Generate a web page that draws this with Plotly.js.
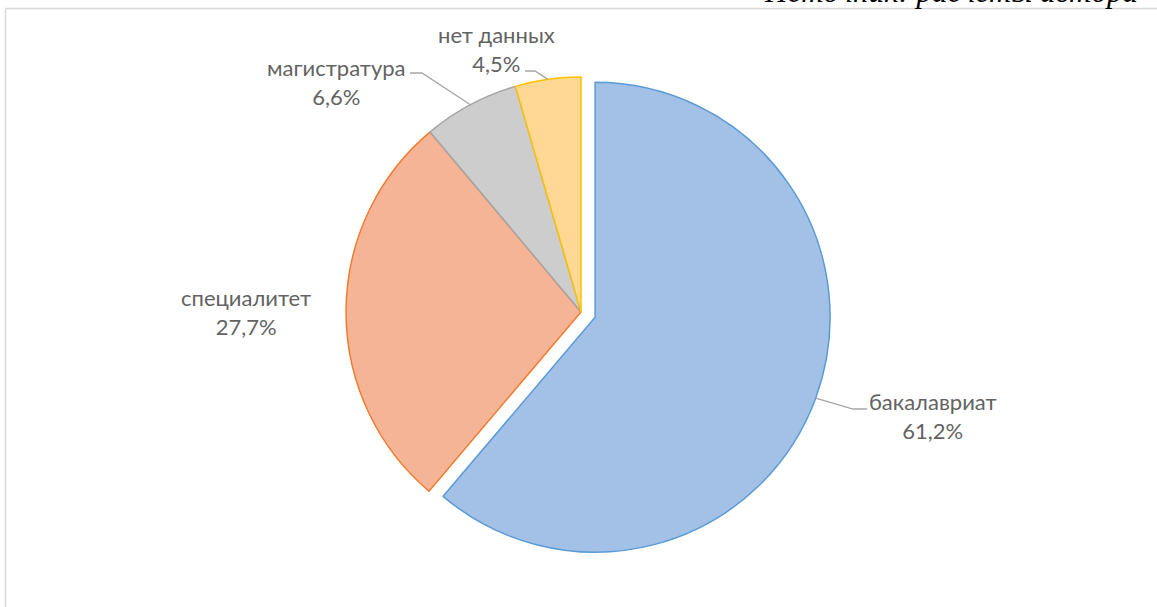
<!DOCTYPE html>
<html>
<head>
<meta charset="utf-8">
<script src="https://cdn.plot.ly/plotly-3.0.1.min.js"></script>
<style>
  html, body { margin: 0; padding: 0; background: #fff; }
  #chart { width: 1157px; height: 607px; }
</style>
</head>
<body>
<div id="chart"></div>
<script>
// shares by programme type, %
const categories = ['бакалавриат', 'специалитет', 'магистратура', 'нет данных'];
const shares = [61.2, 27.7, 6.6, 4.5];
const fills = ['#A3C1E7', '#F6B497', '#CDCDCD', '#FFD993'];
const borders = ['#5B9BD5', '#ED7D31', '#A5A5A5', '#FFC000'];
const pulls = [0.064, 0, 0, 0];

const W = 1157, H = 607;
const px = x => x / W;
const py = y => 1 - y / H;

// pie box in pixels
const cx = 581, cy = 312, boxSize = 500;
const r = boxSize / (2 + 2 * Math.max(...pulls));

const fmt = v => v.toFixed(1).replace('.', ',') + '%';

// where the label blocks sit, and the bend of each leader line (null = no leader)
const labelPos = [[933, 416], [246, 312], [336, 82], [496, 49]];
const bends = [[[867, 409], [853, 409]], null, [[410, 73], [422, 73]], [[525, 71], [535, 71]]];

const total = shares.reduce((a, b) => a + b, 0);
let cum = 0;
const annotations = [];
const shapes = [];

categories.forEach((c, i) => {
  const mid = (cum + shares[i] / 2) / total * 2 * Math.PI;
  cum += shares[i];
  const off = pulls[i] * r;
  const ex = cx + off * Math.sin(mid) + r * Math.sin(mid);
  const ey = cy - off * Math.cos(mid) - r * Math.cos(mid);

  annotations.push({
    x: px(labelPos[i][0]), y: py(labelPos[i][1]),
    xref: 'paper', yref: 'paper',
    xanchor: 'center', yanchor: 'middle',
    text: c + '<br>' + fmt(shares[i]),
    showarrow: false, align: 'center',
    font: { family: 'Lato, sans-serif', size: 22, color: '#636363' }
  });

  if (bends[i]) {
    const b = bends[i];
    shapes.push({
      type: 'path', xref: 'paper', yref: 'paper',
      path: `M ${px(b[0][0])} ${py(b[0][1])} L ${px(b[1][0])} ${py(b[1][1])} L ${px(ex)} ${py(ey)}`,
      line: { color: '#A6A6A6', width: 1.3 }
    });
  }
});

// chart area frame
shapes.push({ type: 'line', xref: 'paper', yref: 'paper', x0: px(5.5), x1: px(1160), y0: py(8.5), y1: py(8.5), line: { color: '#D9D9D9', width: 1.5 } });
shapes.push({ type: 'line', xref: 'paper', yref: 'paper', x0: px(5.5), x1: px(5.5), y0: py(8.5), y1: py(610), line: { color: '#D9D9D9', width: 1.5 } });

// caption cut off above the frame
annotations.push({
  x: px(1140), y: py(11.5), xref: 'paper', yref: 'paper',
  xanchor: 'right', yanchor: 'bottom',
  text: '<i>Источник: расчеты автора</i>', showarrow: false,
  font: { family: 'Liberation Serif, serif', size: 31, color: '#000' }
});

const trace = {
  type: 'pie',
  labels: categories,
  values: shares,
  sort: false,
  direction: 'clockwise',
  rotation: 0,
  pull: pulls,
  textinfo: 'none',
  hoverinfo: 'skip',
  marker: { colors: fills, line: { color: borders, width: 1.5 } },
  domain: { x: [px(cx - boxSize / 2), px(cx + boxSize / 2)], y: [py(cy + boxSize / 2), py(cy - boxSize / 2)] }
};

const layout = {
  width: W, height: H,
  margin: { l: 0, r: 0, t: 0, b: 0 },
  paper_bgcolor: '#fff',
  showlegend: false,
  annotations: annotations,
  shapes: shapes
};

Plotly.newPlot('chart', [trace], layout, { displayModeBar: false, staticPlot: true });
</script>
</body>
</html>
